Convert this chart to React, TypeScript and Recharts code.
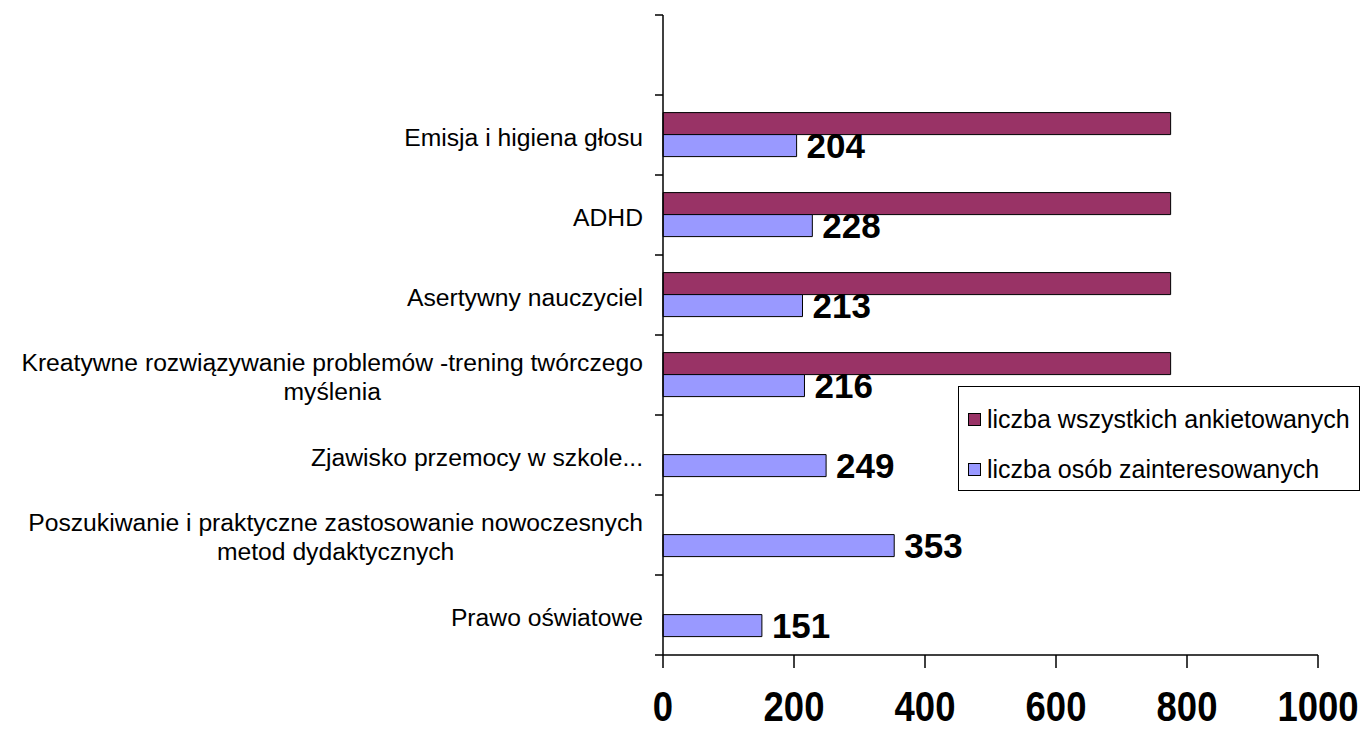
import { BarChart, Bar, XAxis, YAxis, Legend, LabelList } from 'recharts'

// categories top -> bottom (top slot is empty, as in the original sheet)
const categories = [
  '',
  'Emisja i higiena głosu',
  'ADHD',
  'Asertywny nauczyciel',
  'Kreatywne rozwiązywanie problemów -trening twórczego\nmyślenia',
  'Zjawisko przemocy w szkole...',
  'Poszukiwanie i praktyczne zastosowanie nowoczesnych\nmetod dydaktycznych',
  'Prawo oświatowe',
]
const allSurveyed = [null, 775, 775, 775, 775, null, null, null]
const interested = [null, 204, 228, 213, 216, 249, 353, 151]
const xTicks = [0, 200, 400, 600, 800, 1000]

const seriesNames = ['liczba wszystkich ankietowanych', 'liczba osób zainteresowanych']
const seriesColors = ['#993366', '#9999FF']

const data = categories.map((name, i) => ({
  name,
  all: allSurveyed[i],
  interested: interested[i],
}))

const W = 1366
const H = 731
const TOP = 15
const AXIS_X = 663
const X_AXIS_H = 76
const BAND = (H - TOP - X_AXIS_H) / categories.length
const FONT = '"Liberation Sans", Arial, sans-serif'
const CAT_SIZE = 24.7

let ctx: CanvasRenderingContext2D | null = null
function measure(text: string) {
  if (!ctx) ctx = document.createElement('canvas').getContext('2d')
  if (!ctx) return text.length * CAT_SIZE * 0.5
  ctx.font = `${CAT_SIZE}px ${FONT}`
  return ctx.measureText(text).width
}

function CategoryTick(props: any) {
  const { y, payload, index } = props
  const lines: string[] = String(payload.value).split('\n')
  const right = AXIS_X - 20
  const blockW = Math.max(...lines.map(measure))
  const cx = right - blockW / 2
  const lh = 29
  const top = y - ((lines.length - 1) * lh) / 2 + 2
  return (
    <g>
      <line x1={AXIS_X - 8} x2={AXIS_X} y1={y - BAND / 2} y2={y - BAND / 2} stroke="#000" strokeWidth={1.5} />
      {index === categories.length - 1 && (
        <line x1={AXIS_X - 8} x2={AXIS_X} y1={y + BAND / 2} y2={y + BAND / 2} stroke="#000" strokeWidth={1.5} />
      )}
      {lines.map((l, i) => (
        <text
          key={i}
          x={lines.length > 1 ? cx : right}
          y={top + i * lh}
          dy="0.36em"
          textAnchor={lines.length > 1 ? 'middle' : 'end'}
          fontFamily={FONT}
          fontSize={CAT_SIZE}
          fill="#000"
        >
          {l}
        </text>
      ))}
    </g>
  )
}

function ValueTick(props: any) {
  const { x, payload } = props
  return (
    <text
      transform={`translate(${x},721) scale(1,1.15)`}
      textAnchor="middle"
      fontFamily={FONT}
      fontSize={36.5}
      fontWeight="bold"
      fill="#000"
    >
      {payload.value}
    </text>
  )
}

function LegendBox() {
  return (
    <div
      style={{
        border: '1.5px solid #000',
        background: '#fff',
        width: 402,
        height: 105,
        boxSizing: 'border-box',
        fontFamily: FONT,
        fontSize: 25,
        color: '#000',
        padding: '16px 0 0 9px',
      }}
    >
      {seriesNames.map((n, i) => (
        <div key={n} style={{ display: 'flex', alignItems: 'center', height: 50, marginTop: i === 0 ? -9 : 0 }}>
          <span
            style={{
              display: 'inline-block',
              width: 11,
              height: 11,
              background: seriesColors[i],
              border: '1.5px solid #000',
              marginRight: 6,
            }}
          />
          <span>{n}</span>
        </div>
      ))}
    </div>
  )
}

export default function App() {
  return (
    <div style={{ position: 'absolute', left: 0, top: 0, width: W, height: H, background: '#fff' }}>
      <BarChart
        width={W}
        height={H}
        data={data}
        layout="vertical"
        margin={{ top: TOP, right: 48, bottom: 0, left: 0 }}
        barCategoryGap="22%"
        barGap={0}
      >
        <XAxis
          type="number"
          domain={[0, 1000]}
          ticks={xTicks}
          height={X_AXIS_H}
          tickSize={13}
          tick={<ValueTick />}
          stroke="#000"
          strokeWidth={1.5}
          interval={0}
        />
        <YAxis
          type="category"
          dataKey="name"
          width={AXIS_X}
          tickLine={false}
          tick={<CategoryTick />}
          stroke="#000"
          strokeWidth={1.5}
          interval={0}
        />
        <Legend
          layout="vertical"
          align="center"
          verticalAlign="middle"
          content={<LegendBox />}
          wrapperStyle={{ position: 'absolute', left: 958, top: 386, width: 404, height: 107 }}
        />
        <Bar dataKey="all" name={seriesNames[0]} fill={seriesColors[0]} stroke="#000" strokeWidth={1} isAnimationActive={false} />
        <Bar dataKey="interested" name={seriesNames[1]} fill={seriesColors[1]} stroke="#000" strokeWidth={1} isAnimationActive={false}>
          <LabelList
            dataKey="interested"
            position="right"
            offset={10}
            fill="#000"
            fontFamily={FONT}
            fontSize={35}
            fontWeight="bold"
          />
        </Bar>
      </BarChart>
    </div>
  )
}
